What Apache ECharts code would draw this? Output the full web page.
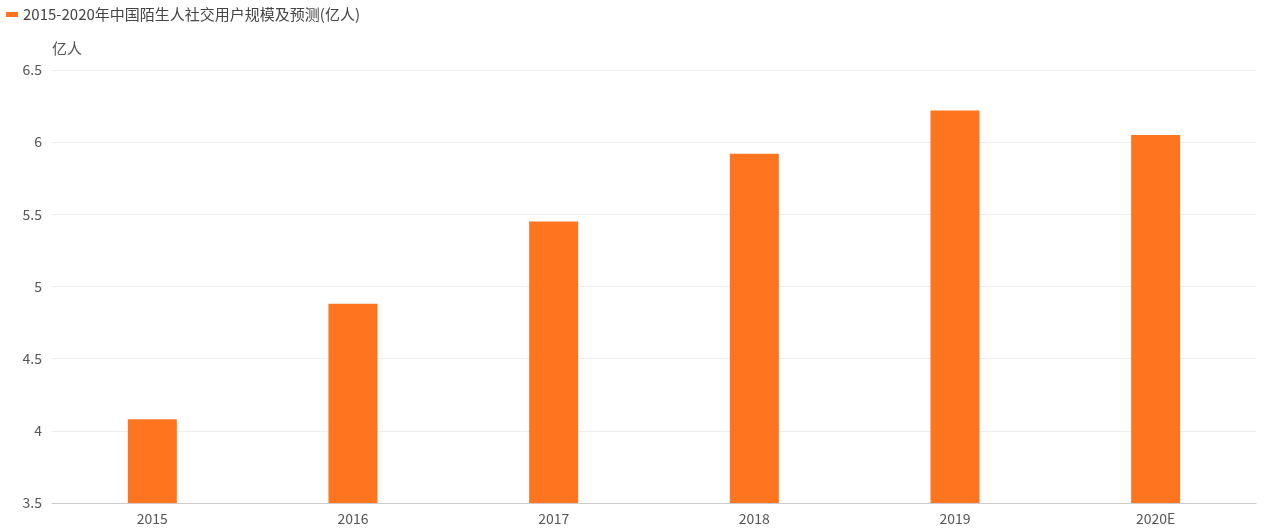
<!DOCTYPE html>
<html>
<head>
<meta charset="utf-8">
<script src="https://cdn.jsdelivr.net/npm/echarts@6/dist/echarts.min.js"></script>
<style>html,body{margin:0;padding:0;background:#fff;}#c{width:1267px;height:532px;}</style>
</head>
<body>
<div id="c"></div>
<script>
var categories = ['2015', '2016', '2017', '2018', '2019', '2020E'];
var values = [4.08, 4.88, 5.45, 5.92, 6.22, 6.05];
var seriesName = '2015-2020年中国陌生人社交用户规模及预测(亿人)';
var unitName = '亿人';

var chart = echarts.init(document.getElementById('c'));
var font = '"Noto Sans CJK SC", "Microsoft YaHei", sans-serif';
chart.setOption({
  animation: false,
  textStyle: { fontFamily: font },
  legend: {
    left: 1, top: 2,
    itemWidth: 12, itemHeight: 5, itemGap: 10,
    icon: 'rect',
    textStyle: { color: '#444', fontSize: 15, fontFamily: font },
    data: [seriesName]
  },
  grid: { left: 52, right: 11, top: 70, bottom: 29, containLabel: false },
  xAxis: {
    type: 'category',
    data: categories,
    axisLine: { lineStyle: { color: '#ccc' } },
    axisTick: { alignWithLabel: true, lineStyle: { color: '#ccc' } },
    axisLabel: { color: '#555', fontSize: 14, margin: 9, fontFamily: font }
  },
  yAxis: {
    type: 'value',
    min: 3.5, max: 6.5, interval: 0.5,
    name: unitName,
    nameGap: 14,
    nameTextStyle: { color: '#555', fontSize: 15, align: 'left', padding: [0, 0, 0, 0], fontFamily: font },
    axisLine: { show: false },
    axisTick: { show: false },
    axisLabel: { color: '#555', fontSize: 14, margin: 10, fontFamily: font },
    splitLine: { lineStyle: { color: '#eee' } }
  },
  series: [{
    name: seriesName,
    type: 'bar',
    data: values,
    barWidth: 49,
    itemStyle: { color: '#ff741f' }
  }]
});
</script>
</body>
</html>
